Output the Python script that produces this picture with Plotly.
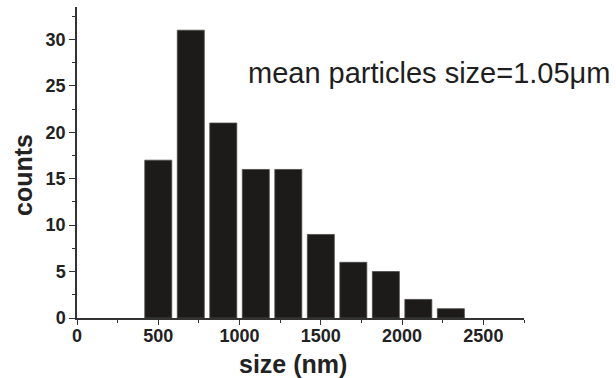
import plotly.graph_objects as go

# Particle size histogram (bin centres in nm) and counts per bin
bin_centers = [500, 700, 900, 1100, 1300, 1500, 1700, 1900, 2100, 2300]
counts = [17, 31, 21, 16, 16, 9, 6, 5, 2, 1]

x_ticks = [0, 500, 1000, 1500, 2000, 2500]
y_ticks = [0, 5, 10, 15, 20, 25, 30]
mean_label = "mean particles size=1.05μm"

FONT = "Arial, 'Liberation Sans', sans-serif"
INK = "#1c1b19"

fig = go.Figure(
    go.Bar(
        x=bin_centers,
        y=counts,
        marker=dict(color=INK, line=dict(color="#4a4946", width=0.8)),
    )
)

L, R, T, B = 77, 92, 7, 60

fig.update_layout(
    width=616,
    height=378,
    margin=dict(l=L, r=R, t=T, b=B, pad=0),
    paper_bgcolor="white",
    plot_bgcolor="white",
    bargap=0.17,
    showlegend=False,
    font=dict(family=FONT, color="#1e1e1e"),
)

fig.update_xaxes(
    range=[0, 2750],
    tickvals=x_ticks,
    ticktext=[str(v) for v in x_ticks],
    ticks="outside",
    ticklen=5,
    tickwidth=1.3,
    tickcolor="#333333",
    ticklabelstandoff=-4,
    minor=dict(dtick=250, tick0=0, ticks="outside", ticklen=3, tickwidth=1.2, tickcolor="#333333"),
    showline=True,
    linecolor="#333333",
    linewidth=1.5,
    showgrid=False,
    zeroline=False,
    tickfont=dict(size=18, weight="bold", color="#222222"),
)

fig.update_yaxes(
    range=[0, 33.5],
    tickvals=y_ticks,
    ticktext=[str(v) for v in y_ticks],
    ticks="outside",
    ticklen=6,
    tickwidth=1.3,
    tickcolor="#333333",
    minor=dict(dtick=2.5, tick0=0, ticks="outside", ticklen=3, tickwidth=1.2, tickcolor="#333333"),
    showline=True,
    linecolor="#333333",
    linewidth=1.5,
    showgrid=False,
    zeroline=False,
    tickfont=dict(size=18, weight="bold", color="#222222"),
)

pw = 616 - L - R
ph = 378 - T - B


def px(xp):
    return (xp - L) / pw


def py(yp):
    return (378 - B - yp) / ph


fig.add_annotation(
    text="size (nm)",
    xref="paper", yref="paper",
    x=px(293), y=py(364),
    xanchor="center", yanchor="middle",
    showarrow=False,
    font=dict(size=25, weight="bold", color="#222222"),
)

fig.add_annotation(
    text="counts",
    xref="paper", yref="paper",
    x=px(23), y=py(175),
    xanchor="center", yanchor="middle",
    textangle=-90,
    showarrow=False,
    font=dict(size=25, weight="bold", color="#222222"),
)

fig.add_annotation(
    text=mean_label,
    xref="paper", yref="paper",
    x=px(246), y=py(73),
    xanchor="left", yanchor="middle",
    showarrow=False,
    font=dict(size=29, color="#1e1e1e"),
)

fig.write_html("out.html")
